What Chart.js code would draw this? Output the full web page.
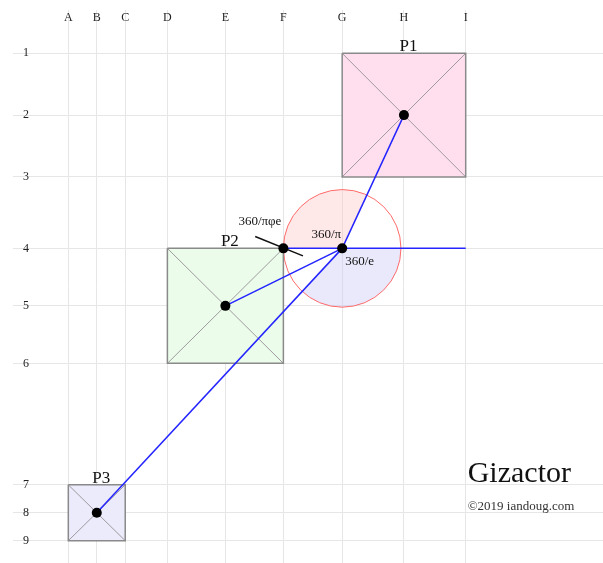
<!DOCTYPE html>
<html>
<head>
<meta charset="utf-8">
<script src="https://cdn.jsdelivr.net/npm/chart.js@4/dist/chart.umd.min.js"></script>
<style>
	html, body { margin: 0; padding: 0; background: #ffffff; }
	#Chart { display: block; }
</style>
</head>
<body>
<canvas id="Chart" width="603" height="563"></canvas>
<script>
// grid columns / rows (plan distances, roughly metres)
var cols = ['A', 'B', 'C', 'D', 'E', 'F', 'G', 'H', 'I'];
var colPos = [0, 53, 106, 184.5, 292.5, 400.5, 510, 625, 740];
var rows = ['1', '2', '3', '4', '5', '6', '7', '8', '9'];
var rowPos = [0, 115, 230, 363, 470, 577, 803, 855, 907];

// pyramids: name, column span, row span
var pyrNames = ['P1', 'P2', 'P3'];
var pyrCols = [['G', 'I'], ['D', 'F'], ['A', 'C']];
var pyrRows = [['1', '3'], ['4', '6'], ['7', '9']];
var pyrFill = ['#ffdfee', '#ebfdea', '#ebebfb'];

// lines from the hub
var hub = ['G', '4'];
var spokes = [['H', '2'], ['E', '5'], ['B', '8']];
var horizon = [['F', '4'], ['I', '4']];
var dots = [['H', '2'], ['E', '5'], ['B', '8'], ['F', '4'], ['G', '4']];
var tangent = [{x: 348, y: 341}, {x: 437, y: 377}];
var angleLabels = ['360/\u03c0\u03c6e', '360/\u03c0', '360/e'];

function pt(c, r)
{
	return {x: colPos[cols.indexOf(c)], y: rowPos[rows.indexOf(r)]};
}

var SERIF = "'Liberation Serif', 'DejaVu Serif', serif";

var datasets = [];

pyrNames.forEach(function (n, i)
{
	var c = pyrCols[i], r = pyrRows[i];
	var tl = pt(c[0], r[0]), tr = pt(c[1], r[0]), br = pt(c[1], r[1]), bl = pt(c[0], r[1]);
	datasets.push({data: [tl, br], borderColor: '#a09aa0', borderWidth: 1, order: 5});
	datasets.push({data: [tr, bl], borderColor: '#a09aa0', borderWidth: 1, order: 5});
	datasets.push({data: [tl, tr, br, bl, tl], borderColor: '#8a8a8a', borderWidth: 1.5, order: 4});
});

spokes.forEach(function (s)
{
	datasets.push({data: [pt(hub[0], hub[1]), pt(s[0], s[1])], borderColor: '#2424ff', borderWidth: 1.5, order: 3});
});
datasets.push({data: [pt(horizon[0][0], horizon[0][1]), pt(horizon[1][0], horizon[1][1])], borderColor: '#2424ff', borderWidth: 1.5, order: 3});
datasets.push({data: tangent, borderColor: '#111111', borderWidth: 1.5, order: 2});

datasets.forEach(function (d)
{
	d.showLine = true;
	d.pointRadius = 0;
	d.fill = false;
});

datasets.push({
	data: dots.map(function (d) { return pt(d[0], d[1]); }),
	showLine: false,
	pointRadius: 5,
	pointBackgroundColor: '#000000',
	pointBorderColor: '#000000',
	pointBorderWidth: 0,
	order: 0
});

var backdrop = {
	id: 'backdrop',
	beforeDatasetsDraw: function (chart)
	{
		var ctx = chart.ctx, xs = chart.scales.x, ys = chart.scales.y;
		ctx.save();
		pyrNames.forEach(function (n, i)
		{
			var a = pt(pyrCols[i][0], pyrRows[i][0]), b = pt(pyrCols[i][1], pyrRows[i][1]);
			var x0 = xs.getPixelForValue(a.x), y0 = ys.getPixelForValue(a.y);
			var x1 = xs.getPixelForValue(b.x), y1 = ys.getPixelForValue(b.y);
			ctx.fillStyle = pyrFill[i];
			ctx.fillRect(x0, y0, x1 - x0, y1 - y0);
		});

		// circle round the hub, radius reaching F4
		var h = pt(hub[0], hub[1]);
		var cx = xs.getPixelForValue(h.x), cy = ys.getPixelForValue(h.y);
		var f = pt(horizon[0][0], horizon[0][1]);
		var e = pt(horizon[1][0], horizon[1][1]);
		var p1 = pt(spokes[0][0], spokes[0][1]);
		var p3 = pt(spokes[2][0], spokes[2][1]);
		var fx = xs.getPixelForValue(f.x);
		var rad = Math.abs(cx - fx);
		function ang(p)
		{
			return Math.atan2(ys.getPixelForValue(p.y) - cy, xs.getPixelForValue(p.x) - cx);
		}
		ctx.fillStyle = 'rgba(255, 190, 190, 0.35)';
		ctx.beginPath();
		ctx.moveTo(cx, cy);
		ctx.arc(cx, cy, rad, ang(f), ang(p1), false);
		ctx.closePath();
		ctx.fill();

		ctx.fillStyle = 'rgba(200, 200, 245, 0.4)';
		ctx.beginPath();
		ctx.moveTo(cx, cy);
		ctx.arc(cx, cy, rad, ang(e), ang(p3), false);
		ctx.closePath();
		ctx.fill();

		ctx.strokeStyle = '#ff6a6a';
		ctx.lineWidth = 1;
		ctx.beginPath();
		ctx.arc(cx, cy, rad, 0, Math.PI * 2);
		ctx.stroke();
		ctx.restore();
	},
	afterDraw: function (chart)
	{
		var ctx = chart.ctx, xs = chart.scales.x, ys = chart.scales.y;
		ctx.save();
		ctx.fillStyle = '#222222';
		ctx.font = '12px ' + SERIF;
		ctx.textAlign = 'center';
		ctx.textBaseline = 'middle';
		cols.forEach(function (c, i)
		{
			ctx.fillText(c, xs.getPixelForValue(colPos[i]), 18);
		});
		rows.forEach(function (r, i)
		{
			ctx.fillText(r, 26, ys.getPixelForValue(rowPos[i]));
		});

		ctx.fillStyle = '#111111';
		ctx.font = '17px ' + SERIF;
		ctx.textBaseline = 'alphabetic';
		pyrNames.forEach(function (n, i)
		{
			var a = pt(pyrCols[i][0], pyrRows[i][0]), b = pt(pyrCols[i][1], pyrRows[i][0]);
			var x = (xs.getPixelForValue(a.x) + xs.getPixelForValue(b.x)) / 2 + 4.5;
			ctx.fillText(n, x, ys.getPixelForValue(a.y) - 2);
		});

		var f = pt(horizon[0][0], horizon[0][1]);
		var h = pt(hub[0], hub[1]);
		var fx = xs.getPixelForValue(f.x), fy = ys.getPixelForValue(f.y);
		var cx = xs.getPixelForValue(h.x), cy = ys.getPixelForValue(h.y);
		ctx.font = '13px ' + SERIF;
		ctx.textBaseline = 'middle';
		ctx.textAlign = 'left';
		ctx.fillText(angleLabels[0], fx - 45, fy - 27);
		ctx.textAlign = 'right';
		ctx.fillText(angleLabels[1], cx - 1, cy - 14);
		ctx.textAlign = 'left';
		ctx.fillText(angleLabels[2], cx + 3, cy + 13);

		var ix = xs.getPixelForValue(colPos[colPos.length - 1]);
		ctx.textBaseline = 'alphabetic';
		ctx.font = '30px ' + SERIF;
		ctx.fillText('Gizactor', ix + 2, 482);
		ctx.fillStyle = '#333333';
		ctx.font = '13px ' + SERIF;
		ctx.fillText('\u00a92019 iandoug.com', ix + 2, 510);
		ctx.restore();
	}
};

var grid = {color: '#e6e6e6', lineWidth: 1, drawTicks: false};

new Chart(document.getElementById('Chart'), {
	type: 'scatter',
	data: {datasets: datasets},
	options: {
		responsive: false,
		animation: false,
		layout: {autoPadding: false, padding: {left: 13, top: 10, right: 0, bottom: 0}},
		plugins: {legend: {display: false}, tooltip: {enabled: false}},
		scales: {
			x: {
				type: 'linear', min: -103, max: 995.7,
				grid: grid, border: {display: false},
				ticks: {display: false},
				afterBuildTicks: function (s) { s.ticks = colPos.map(function (v) { return {value: v}; }); }
			},
			y: {
				type: 'linear', reverse: true, min: -80.6, max: 948.5,
				grid: grid, border: {display: false},
				ticks: {display: false},
				afterBuildTicks: function (s) { s.ticks = rowPos.map(function (v) { return {value: v}; }); }
			}
		}
	},
	plugins: [backdrop]
});
</script>
</body>
</html>
